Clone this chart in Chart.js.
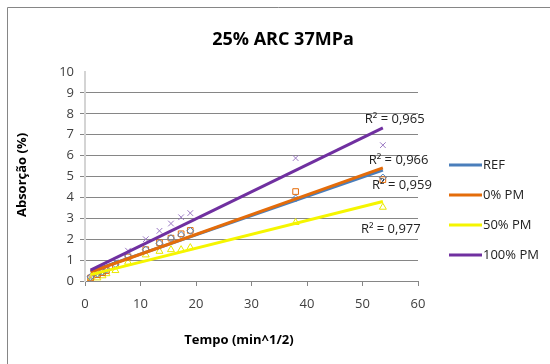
<!DOCTYPE html>
<html>
<head>
<meta charset="utf-8">
<script src="https://cdn.jsdelivr.net/npm/chart.js@4/dist/chart.umd.min.js"></script>
<style>
  html, body { margin: 0; padding: 0; background: #fff; }
  #grafico { display: block; }
</style>
</head>
<body>
<canvas id="grafico" width="550" height="364"></canvas>
<script>
// tempo em raiz de minutos (1, 5, 10, 15, 30, 60 ... 2880 min)
const tempo = [1, 2.24, 3.16, 3.87, 5.48, 7.75, 10.95, 13.42, 15.49, 17.32, 18.97, 37.95, 53.67];

// absorção (%) por traço
const ref   = [0.2, 0.35, 0.45, 0.55, 0.8, 1.2, 1.5, 1.8, 2.05, 2.2, 2.4, 3.95, 4.95];
const pm0   = [0.15, 0.3, 0.4, 0.5, 0.75, 1.15, 1.5, 1.83, 2.05, 2.26, 2.42, 4.28, 4.85];
const pm50  = [0.05, 0.15, 0.25, 0.35, 0.5, 0.9, 1.25, 1.42, 1.5, 1.5, 1.6, 2.8, 3.53];
const pm100 = [0.15, 0.35, 0.5, 0.65, 0.9, 1.45, 2.0, 2.4, 2.75, 3.05, 3.25, 5.88, 6.5];

const series = ['REF', '0% PM', '50% PM', '100% PM'];
const r2Labels = ['R² = 0,959', 'R² = 0,966', 'R² = 0,977', 'R² = 0,965'];
const xTicks = [0, 10, 20, 30, 40, 50, 60];
const yTicks = [0, 1, 2, 3, 4, 5, 6, 7, 8, 9, 10];

const titulo = '25% ARC 37MPa';
const tituloX = 'Tempo (min^1/2)';
const tituloY = 'Absorção (%)';

const cores = ['#4a7ebb', '#e46c0a', '#f5f500', '#7030a0'];
const coresMarca = ['#4f81bd', '#e46c0a', '#e8e800', '#9a78c2'];
const marcas = ['rectRot', 'rect', 'triangle', 'crossRot'];
const tamMarca = [3.5, 4, 4, 4];
// onde cada rótulo R² fica (unidades do gráfico)
const posR2 = [[57.1, 4.56], [56.5, 5.76], [55.1, 2.47], [55.8, 7.76]];

const FONTE = '"Open Sans", "DejaVu Sans", sans-serif';

// regressão linear simples
function tendencia(xs, ys) {
  const n = xs.length;
  const mx = xs.reduce((a, b) => a + b, 0) / n;
  const my = ys.reduce((a, b) => a + b, 0) / n;
  let sxy = 0, sxx = 0;
  for (let i = 0; i < n; i++) {
    sxy += (xs[i] - mx) * (ys[i] - my);
    sxx += (xs[i] - mx) * (xs[i] - mx);
  }
  const b = sxy / sxx;
  const a = my - b * mx;
  const x0 = Math.min(...xs), x1 = Math.max(...xs);
  return [{ x: x0, y: a + b * x0 }, { x: x1, y: a + b * x1 }];
}

const valores = [ref, pm0, pm50, pm100];
const pontos = valores.map((vs, i) => ({
  label: series[i],
  data: tempo.map((t, j) => ({ x: t, y: vs[j] })),
  showLine: false,
  pointStyle: marcas[i],
  pointRadius: tamMarca[i],
  pointBorderColor: coresMarca[i],
  pointBackgroundColor: 'rgba(0,0,0,0)',
  pointBorderWidth: 1,
  order: 10 + i
}));
const linhas = valores.map((vs, i) => ({
  label: 'Linear (' + series[i] + ')',
  data: tendencia(tempo, vs),
  showLine: true,
  borderColor: cores[i],
  borderWidth: 3,
  pointRadius: 0,
  order: 3 - i
}));

const extras = {
  id: 'extras',
  afterDraw(chart) {
    const { ctx, scales: { x, y } } = chart;
    ctx.save();
    // moldura
    ctx.strokeStyle = '#868686';
    ctx.lineWidth = 1;
    ctx.beginPath();
    ctx.moveTo(7.5, 364);
    ctx.lineTo(7.5, 7.5);
    ctx.lineTo(550, 7.5);
    ctx.stroke();

    ctx.fillStyle = '#000';
    ctx.textAlign = 'center';
    ctx.textBaseline = 'middle';
    ctx.font = 'bold 18px ' + FONTE;
    ctx.fillText(titulo, 283, 40);

    ctx.font = 'bold 13px ' + FONTE;
    ctx.fillText(tituloX, 239, 340);
    ctx.save();
    ctx.translate(22, 175);
    ctx.rotate(-Math.PI / 2);
    ctx.fillText(tituloY, 0, 0);
    ctx.restore();

    // rótulos R²
    ctx.font = '13px ' + FONTE;
    ctx.fillStyle = '#222';
    r2Labels.forEach((txt, i) => {
      ctx.fillText(txt, x.getPixelForValue(posR2[i][0]), y.getPixelForValue(posR2[i][1]));
    });

    // legenda
    ctx.textAlign = 'left';
    ctx.font = '13px ' + FONTE;
    series.forEach((nome, i) => {
      const ly = 165 + i * 30;
      ctx.strokeStyle = cores[i];
      ctx.lineWidth = 3;
      ctx.beginPath();
      ctx.moveTo(449, ly);
      ctx.lineTo(482, ly);
      ctx.stroke();
      ctx.fillStyle = '#222';
      ctx.fillText(nome, 483, ly);
    });
    ctx.restore();
  }
};

new Chart(document.getElementById('grafico'), {
  type: 'scatter',
  data: { datasets: [...linhas, ...pontos] },
  options: {
    responsive: false,
    animation: false,
    layout: { padding: { left: 0, top: 72, right: 132, bottom: 0 } },
    plugins: { legend: { display: false }, tooltip: { enabled: false } },
    scales: {
      x: {
        type: 'linear',
        min: 0,
        max: 60,
        afterBuildTicks: s => { s.ticks = xTicks.map(v => ({ value: v })); },
        afterFit: s => { s.height = 83; },
        border: { color: '#868686', width: 1 },
        grid: { drawOnChartArea: false, drawTicks: true, tickLength: 5, color: '#868686' },
        ticks: { padding: 10, color: '#404040', font: { family: FONTE, size: 13 } }
      },
      y: {
        type: 'linear',
        min: 0,
        max: 10,
        afterBuildTicks: s => { s.ticks = yTicks.map(v => ({ value: v })); },
        afterFit: s => { s.width = 85; },
        border: { color: '#d4d4d4', width: 2 },
        grid: {
          tickLength: 5,
          color: c => (c.tick && c.tick.value === 10 ? 'rgba(0,0,0,0)' : '#868686')
        },
        ticks: { padding: 6, color: '#404040', font: { family: FONTE, size: 13 } }
      }
    }
  },
  plugins: [extras]
});
</script>
</body>
</html>
